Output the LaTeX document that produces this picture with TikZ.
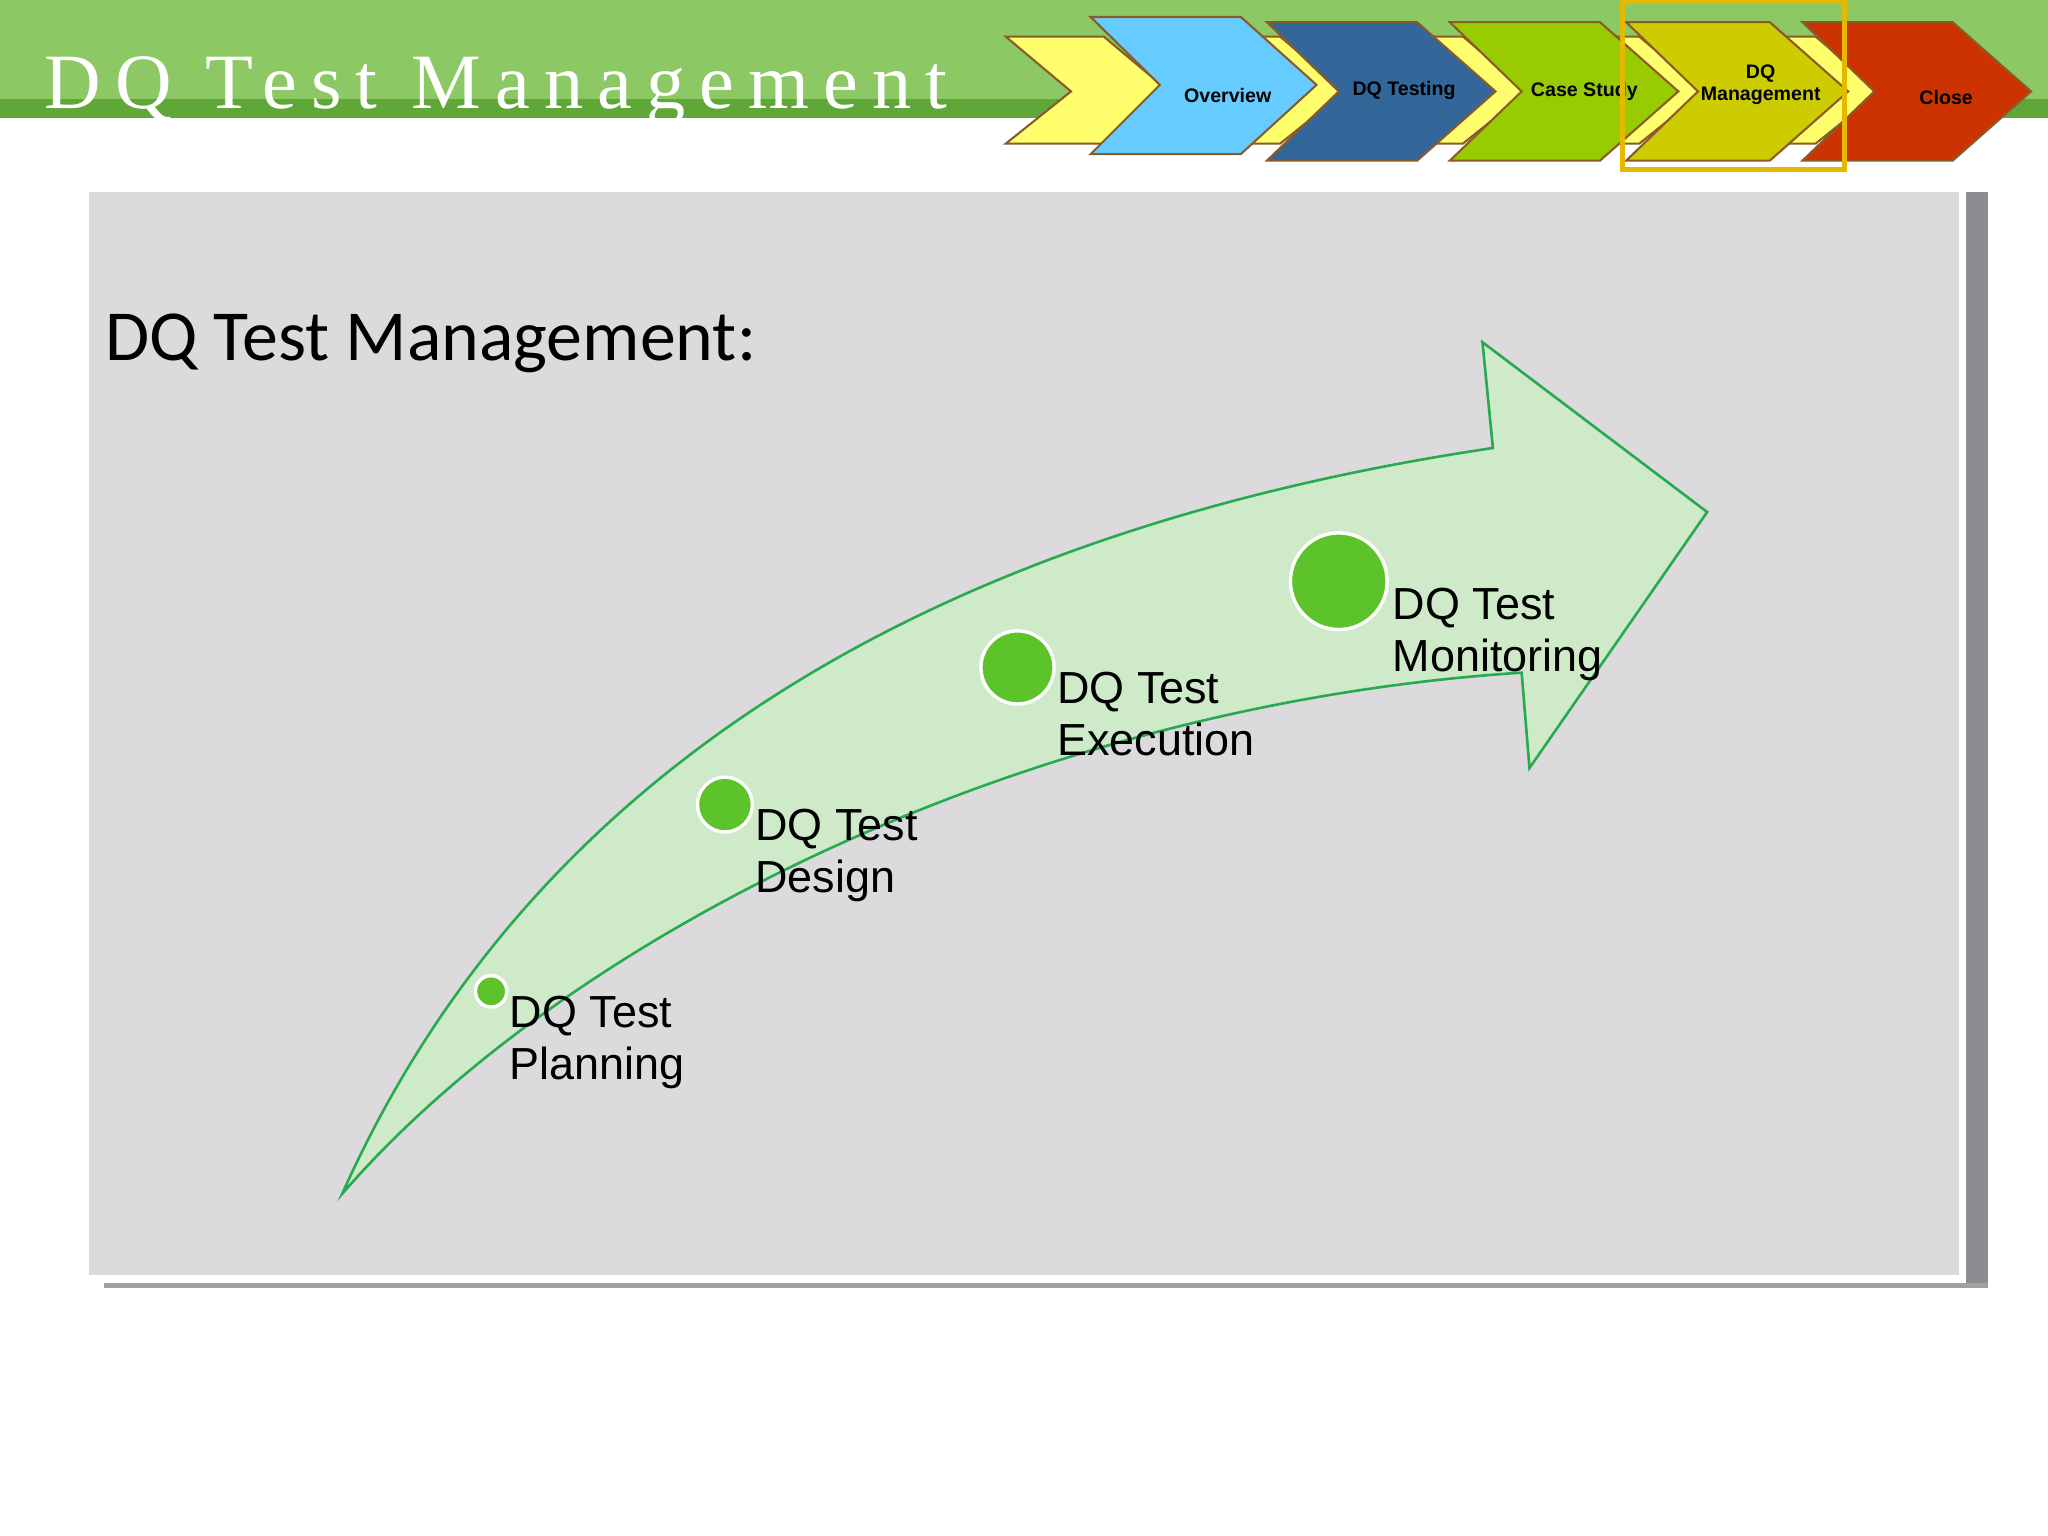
\documentclass[tikz,border=0pt]{standalone}
\usepackage{fontspec}
\setmainfont{Liberation Sans}
\newfontfamily\carl{Carlito}
\newfontfamily\hdr[LetterSpace=18]{Liberation Serif}
\definecolor{bandL}{RGB}{140,200,100}
\definecolor{bandD}{RGB}{95,168,56}
\definecolor{chevline}{RGB}{140,90,40}
\definecolor{backyel}{RGB}{255,255,110}
\definecolor{cblue}{RGB}{102,204,255}
\definecolor{cdblue}{RGB}{51,102,153}
\definecolor{cgreen}{RGB}{153,204,0}
\definecolor{colive}{RGB}{204,204,0}
\definecolor{cred}{RGB}{204,51,0}
\definecolor{hilite}{RGB}{230,184,0}
\definecolor{shadow1}{RGB}{140,140,145}
\definecolor{shadow2}{RGB}{160,160,165}
\definecolor{panel}{RGB}{220,218,221}
\definecolor{arrline}{RGB}{40,170,80}
\definecolor{arrfill}{RGB}{206,234,200}
\definecolor{dotgreen}{RGB}{92,195,42}
\begin{document}
\begin{tikzpicture}[x=0.5pt,y=-0.5pt,
  chev/.style={draw=chevline,line width=0.8pt},
  back/.style={chev,fill=backyel},
  clab/.style={font=\bfseries\fontsize{7.5}{8.5}\selectfont,align=center},
  dot/.style={circle,fill=dotgreen,draw=white,line width=1.3pt,inner sep=0pt},
  lab/.style={anchor=north west,align=left,inner sep=0pt,font=\fontsize{17.2}{20}\selectfont}]
\useasboundingbox (0,0) rectangle (1568,1176);
\fill[white] (0,0) rectangle (1568,1176);
% header band
\fill[bandL] (0,0) rectangle (1568,76);
\fill[bandD] (0,76) rectangle (1568,90);
\node[anchor=west,text=white,font=\hdr\fontsize{30}{32}\selectfont,inner sep=0pt] (title) at (34,70) {DQ Test Management};
% back yellow chevrons
\foreach \x in {770,905,1045,1180,1315}
  \draw[back] (\x,28) -- (\x+75,28) -- (\x+125,70) -- (\x+75,110) -- (\x,110) -- (\x+50,70) -- cycle;
% chevrons
\draw[chev,fill=cblue] (835,13) -- (950,13) -- (1008,65) -- (950,118) -- (835,118) -- (888,65) -- cycle;
\draw[chev,fill=cdblue] (970,17) -- (1085,17) -- (1145,70) -- (1085,123) -- (970,123) -- (1025,70) -- cycle;
\draw[chev,fill=cgreen] (1110,17) -- (1225,17) -- (1285,70) -- (1225,123) -- (1110,123) -- (1165,70) -- cycle;
\draw[chev,fill=colive] (1245,17) -- (1355,17) -- (1415,70) -- (1355,123) -- (1245,123) -- (1300,70) -- cycle;
\draw[chev,fill=cred] (1380,17) -- (1495,17) -- (1555,70) -- (1495,123) -- (1380,123) -- (1435,70) -- cycle;
\node[clab] (c1) at (940,73) {Overview};
\node[clab] (c2) at (1075,69) {DQ Testing};
\node[clab] (c3) at (1213,70) {Case Study};
\node[clab] (c4) at (1348,65) {DQ\\Management};
\node[clab] (c5) at (1490,75) {Close};
\draw[hilite,line width=2pt] (1242,1) rectangle (1412,130);
% panel
\fill[shadow1] (1505,147) rectangle (1522,985);
\fill[shadow2] (80,982) rectangle (1522,986);
\fill[panel] (68,147) rectangle (1500,976);
\node[anchor=west,inner sep=0pt,font=\carl\fontsize{27.5}{30}\selectfont] (head) at (80,263) {DQ Test Management:};
% big arrow
\draw[draw=arrline,line width=1pt,fill=arrfill]
  (262,914) .. controls (420,560) and (760,400) .. (1143,343) -- (1135,262) -- (1307,392) -- (1171,588) -- (1165,515)
  .. controls (780,540) and (430,720) .. cycle;
% dots
\node[dot,minimum size=12pt] (d1) at (376,759) {};
\node[dot,minimum size=21pt] (d2) at (555,616) {};
\node[dot,minimum size=28pt] (d3) at (779,511) {};
\node[dot,minimum size=37pt] (d4) at (1025,445) {};
\node[lab] (l1) at (390,762) {DQ Test\\Planning};
\node[lab] (l2) at (578,619) {DQ Test\\Design};
\node[lab] (l3) at (809,514) {DQ Test\\Execution};
\node[lab] (l4) at (1066,450) {DQ Test\\Monitoring};
\end{tikzpicture}
\end{document}
